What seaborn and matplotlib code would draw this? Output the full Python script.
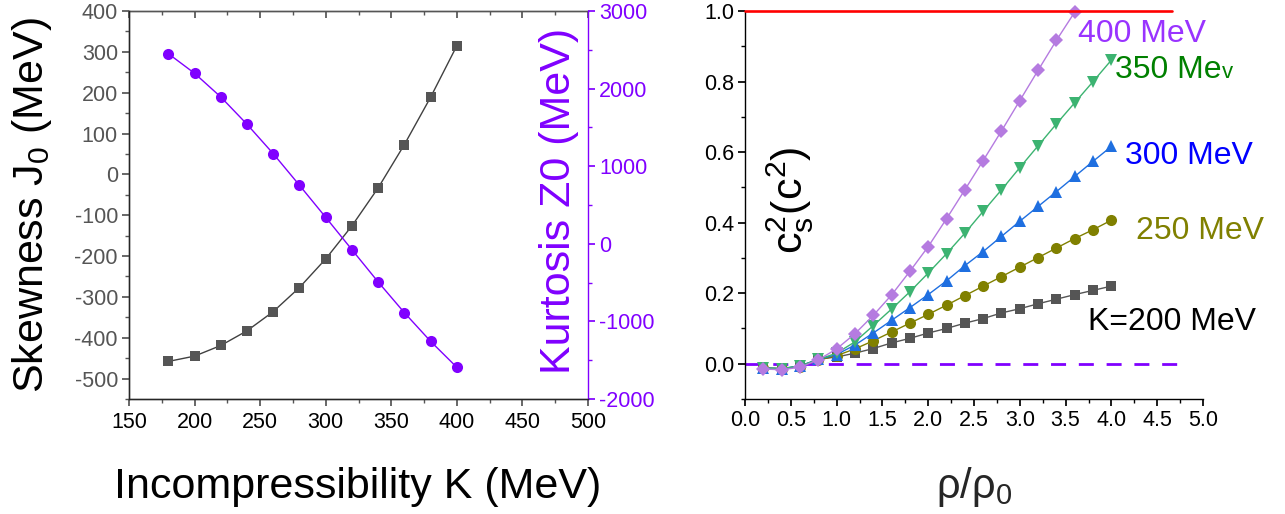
import numpy as np
import pandas as pd
import seaborn as sns
import matplotlib.pyplot as plt
from matplotlib.ticker import MultipleLocator

# --- data ---
K_VALUES = [180, 200, 220, 240, 260, 280, 300, 320, 340, 360, 380, 400]
SKEWNESS_J0 = [-458, -445, -419, -383, -336, -277, -207, -126, -33, 73, 189, 315]
KURTOSIS_Z0 = [2450, 2197, 1892, 1540, 1161, 754, 341, -76, -492, -888, -1257, -1592]

RHO = [0.2, 0.4, 0.6, 0.8, 1.0, 1.2, 1.4, 1.6, 1.8, 2.0,
       2.2, 2.4, 2.6, 2.8, 3.0, 3.2, 3.4, 3.6, 3.8, 4.0]
CS2_K200 = [-0.012, -0.014, -0.008, 0.013, 0.019, 0.030, 0.043, 0.059, 0.072, 0.087,
            0.100, 0.115, 0.128, 0.144, 0.156, 0.170, 0.183, 0.196, 0.208, 0.220]
CS2_K250 = [-0.012, -0.014, -0.008, 0.010, 0.023, 0.042, 0.065, 0.090, 0.115, 0.140,
            0.166, 0.193, 0.220, 0.247, 0.274, 0.301, 0.328, 0.355, 0.380, 0.407]
CS2_K300 = [-0.012, -0.014, -0.006, 0.012, 0.026, 0.053, 0.087, 0.123, 0.159, 0.196,
            0.235, 0.278, 0.318, 0.361, 0.404, 0.446, 0.488, 0.531, 0.574, 0.616]
CS2_K350 = [-0.012, -0.014, -0.006, 0.012, 0.030, 0.062, 0.108, 0.155, 0.204, 0.257,
            0.312, 0.370, 0.432, 0.493, 0.556, 0.618, 0.680, 0.740, 0.800, 0.861]
RHO_K400 = RHO[:18]
CS2_K400 = [-0.015, -0.017, -0.010, 0.011, 0.042, 0.085, 0.137, 0.195, 0.262, 0.332,
            0.411, 0.493, 0.576, 0.660, 0.746, 0.832, 0.917, 0.997]

CAUSAL_LIMIT = 1.0
ZERO_LEVEL = 0.0

PURPLE = '#8000ff'
GRAY = '#555555'

sns.set_theme(style='ticks')
plt.rcParams['font.family'] = ['Liberation Sans', 'DejaVu Sans']
plt.rcParams['mathtext.default'] = 'regular'
plt.rcParams['axes.linewidth'] = 1.0
plt.rcParams['axes.unicode_minus'] = False

fig = plt.figure(figsize=(12.85, 5.14), dpi=100)
W, H = 1285, 514
ax1 = fig.add_axes([129 / W, (H - 399) / H, 459 / W, 388 / H])
ax3 = fig.add_axes([745 / W, (H - 399) / H, 458 / W, 388 / H])

# --- left panel: skewness and kurtosis ---
left = pd.DataFrame({'K': K_VALUES, 'J0': SKEWNESS_J0, 'Z0': KURTOSIS_Z0})
sns.lineplot(data=left, x='K', y='J0', ax=ax1, color='#404040', linewidth=1,
             marker='s', markersize=7, markeredgewidth=0, markerfacecolor=GRAY)
ax2 = ax1.twinx()
sns.lineplot(data=left, x='K', y='Z0', ax=ax2, color=PURPLE, linewidth=1,
             marker='o', markersize=8, markeredgewidth=0)

ax1.set_xlim(150, 500)
ax1.set_ylim(-550, 400)
ax2.set_ylim(-2000, 3000)
ax1.xaxis.set_major_locator(MultipleLocator(50))
ax1.xaxis.set_minor_locator(MultipleLocator(25))
ax1.yaxis.set_major_locator(MultipleLocator(100))
ax1.yaxis.set_minor_locator(MultipleLocator(50))
ax2.yaxis.set_major_locator(MultipleLocator(1000))
ax2.yaxis.set_minor_locator(MultipleLocator(500))

for s in ['left', 'bottom', 'top']:
    ax1.spines[s].set_color(GRAY)
    ax1.spines[s].set_visible(True)
ax2.spines['right'].set_color(PURPLE)
ax2.spines['right'].set_visible(True)
ax2.spines['top'].set_visible(False)
ax1.spines['right'].set_visible(False)

ax1.tick_params(axis='x', which='both', direction='out', colors=GRAY,
                labelcolor='black', labelsize=15.5, pad=4)
ax1.tick_params(axis='x', which='major', length=5)
ax1.tick_params(axis='x', which='minor', length=3)
ax1.tick_params(axis='y', which='both', direction='out', colors=GRAY,
                labelcolor=GRAY, labelsize=15.5, pad=3)
ax1.tick_params(axis='y', which='major', length=5)
ax1.tick_params(axis='y', which='minor', length=3)
ax2.tick_params(axis='y', which='both', direction='out', colors=PURPLE,
                labelcolor=PURPLE, labelsize=15.5, pad=3)
ax2.tick_params(axis='y', which='major', length=5)
ax2.tick_params(axis='y', which='minor', length=3)

top = ax1.secondary_xaxis('top')
top.xaxis.set_major_locator(MultipleLocator(50))
top.xaxis.set_minor_locator(MultipleLocator(25))
top.tick_params(axis='x', which='both', direction='in', colors=GRAY, labeltop=False)
top.tick_params(axis='x', which='major', length=5)
top.tick_params(axis='x', which='minor', length=3)
top.spines['top'].set_color(GRAY)

ax1.set_xlabel('Incompressibility K (MeV)', fontsize=31, color='black')
ax1.xaxis.set_label_coords(0.499, -0.175)
ax1.set_ylabel('')
ax2.set_ylabel('')
ax1.text(-0.211, 0.5, 'Skewness J$_0$ (MeV)', transform=ax1.transAxes,
         rotation=90, ha='center', va='center', fontsize=31, color='black')
ax1.text(0.937, 0.51, 'Kurtosis Z0 (MeV)', transform=ax1.transAxes,
         rotation=90, ha='center', va='center', fontsize=31, color=PURPLE)

# --- right panel: speed of sound squared ---
series = [
    (RHO, CS2_K200, '#555555', 's', 7),
    (RHO, CS2_K250, '#808000', 'o', 8),
    (RHO, CS2_K300, '#1f6fe0', '^', 9),
    (RHO, CS2_K350, '#3cb371', 'v', 9),
    (RHO_K400, CS2_K400, '#b57be0', 'D', 7),
]
for xs, ys, col, mk, ms in series:
    sns.lineplot(x=xs, y=ys, ax=ax3, color=col, linewidth=1, marker=mk,
                 markersize=ms, markeredgewidth=0, clip_on=False)

ax3.axhline(CAUSAL_LIMIT, xmin=0, xmax=4.66 / 5, color='#ff0000', linewidth=1.9,
            clip_on=False, zorder=5)
ax3.axhline(ZERO_LEVEL, xmin=0, xmax=4.81 / 5, color=PURPLE, linewidth=2,
            linestyle=(0, (5.4, 4.6)), zorder=1)

ax3.set_xlim(0, 5)
ax3.set_ylim(-0.1, 1.0)
ax3.xaxis.set_major_locator(MultipleLocator(0.5))
ax3.xaxis.set_minor_locator(MultipleLocator(0.25))
ax3.yaxis.set_major_locator(MultipleLocator(0.2))
ax3.yaxis.set_minor_locator(MultipleLocator(0.1))
ax3.xaxis.set_major_formatter(lambda v, p: f'{v:.1f}')
ax3.yaxis.set_major_formatter(lambda v, p: f'{v:.1f}')
sns.despine(ax=ax3)
for s in ['left', 'bottom']:
    ax3.spines[s].set_color('black')
ax3.tick_params(axis='both', which='both', direction='out', colors='black',
                labelsize=15.5, pad=3)
ax3.tick_params(axis='both', which='major', length=5)
ax3.tick_params(axis='both', which='minor', length=3)

ax3.set_xlabel(r'$\rho/\rho_0$', fontsize=30)
ax3.xaxis.set_label_coords(0.5, -0.17)
ax3.set_ylabel('')
ax3.text(0.49, 0.464, 'c$_s^2$(c$^2$)', rotation=90, ha='center', va='center',
         fontsize=31, color='black')

ax3.text(3.63, 0.935, '400 MeV', color='#9933ff', fontsize=23, va='center', ha='left')
t350 = ax3.text(4.04, 0.81, '350 Me', color='#008000', fontsize=23, va='baseline', ha='left')
ax3.annotate('v', xy=(1, 0), xycoords=t350, xytext=(0, 4.9), textcoords='offset points',
             color='#008000', fontsize=16, va='baseline', ha='left')
ax3.text(4.15, 0.59, '300 MeV', color='#0000ff', fontsize=23, va='center', ha='left')
ax3.text(4.27, 0.376, '250 MeV', color='#808000', fontsize=23, va='center', ha='left')
ax3.text(3.74, 0.118, 'K=200 MeV', color='black', fontsize=23, va='center', ha='left')

fig.savefig('out.png', dpi=100)
